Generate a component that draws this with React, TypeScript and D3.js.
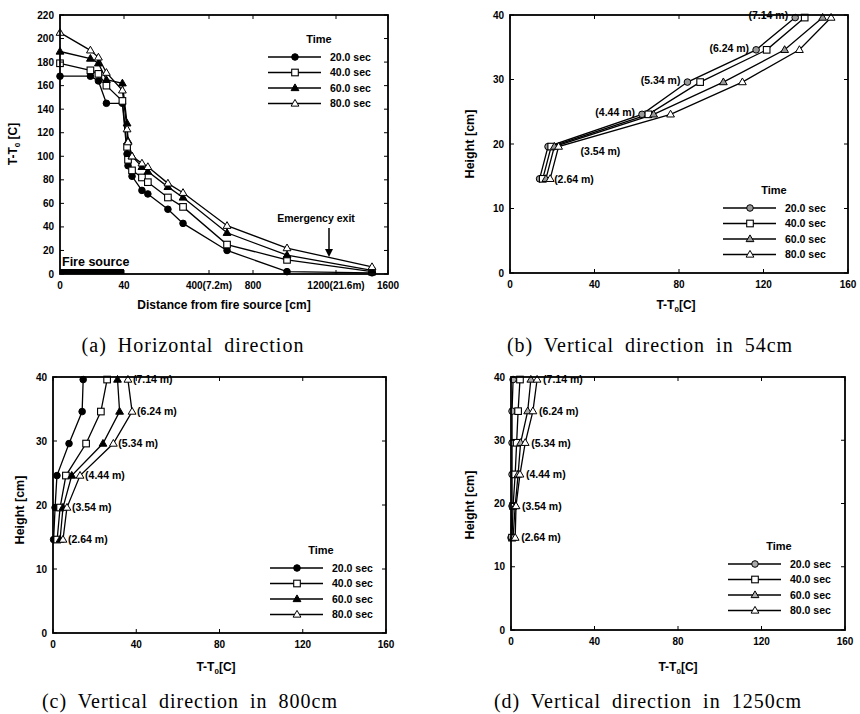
import React from "react";
import * as d3 from "d3";

// legend entries shared by all four panels
const times = ["20.0 sec", "40.0 sec", "60.0 sec", "80.0 sec"];

// (a) horizontal direction: distance from fire source [cm] vs T-T0 [C]
const distCm = [0, 19, 24, 29, 39, 53, 57, 74, 116, 141, 226, 290, 564, 964, 1477];
const horiz20 = [168, 168, 164, 145, 145, 102, 92, 83, 71, 68, 55, 43, 20, 2, 1];
const horiz40 = [179, 173, 170, 160, 147, 108, 97, 88, 82, 78, 65, 57, 25, 12, 2];
const horiz60 = [189, 183, 179, 165, 162, 128, 113, 100, 91, 87, 74, 65, 35, 16, 3];
const horiz80 = [205, 190, 184, 171, 156, 123, 112, 100, 94, 91, 77, 69, 41, 22, 6];
const distTicks = [0, 40, 400, 800, 1200, 1600];
const distTickLabels = ["0", "40", "400(7.2m)", "800", "1200(21.6m)", "1600"];
const tempTicks = [0, 20, 40, 60, 80, 100, 120, 140, 160, 180, 200, 220];
const fireSource = [0, 40];

// (b)-(d) vertical profiles: T-T0 [C] at each probe height [cm]
const heightCm = [14.6, 19.6, 24.6, 29.6, 34.6, 39.6];
const probeLabels = ["(2.64 m)", "(3.54 m)", "(4.44 m)", "(5.34 m)", "(6.24 m)", "(7.14 m)"];
const heightTicks = [0, 10, 20, 30, 40];
const dTTicks = [0, 40, 80, 120, 160];

const at54_20 = [14, 18, 62.5, 84, 116.5, 135];
const at54_40 = [15.5, 19.5, 65.5, 90, 121.5, 139.5];
const at54_60 = [17, 21, 68, 101, 130, 148];
const at54_80 = [19, 23, 76, 110, 137, 152];

const at800_20 = [0.3, 1, 1.9, 7.7, 14, 14.5];
const at800_40 = [2, 3.4, 6.2, 15.9, 23, 26];
const at800_60 = [3.4, 4.8, 9, 24, 32, 31];
const at800_80 = [4.8, 6.7, 13, 29, 38, 36];

const at1250_20 = [0, 0.5, 0.5, 0.5, 0.5, 1];
const at1250_40 = [0.5, 1, 2, 2.7, 3.4, 4.3];
const at1250_60 = [1, 2, 3.4, 4.6, 8, 9.5];
const at1250_80 = [2, 2.4, 4.3, 6.8, 10.5, 12.5];

const SANS = "'Liberation Sans', Arial, sans-serif";
const SERIF = "'Liberation Serif', 'Times New Roman', serif";

type Scale = d3.ScaleLinear<number, number>;

function Marker({ kind, x, y, solid }: { kind: number; x: number; y: number; solid: string }) {
  const r = 3.3;
  if (kind === 0) return <circle cx={x} cy={y} r={r} fill={solid} stroke="#000" strokeWidth={1} />;
  if (kind === 1)
    return <rect x={x - r} y={y - r} width={2 * r} height={2 * r} fill="#fff" stroke="#000" strokeWidth={1.1} />;
  const tri = `M${x},${y - r - 0.8}L${x + r + 0.6},${y + r * 0.8}L${x - r - 0.6},${y + r * 0.8}Z`;
  return <path d={tri} fill={kind === 2 ? solid : "#fff"} stroke="#000" strokeWidth={1} />;
}

function DeltaT({ x, y, rotate }: { x: number; y: number; rotate?: boolean }) {
  return (
    <text
      x={x}
      y={y}
      textAnchor="middle"
      fontFamily={SANS}
      fontWeight="bold"
      fontSize={12}
      transform={rotate ? `rotate(-90 ${x} ${y})` : undefined}
    >
      T-T<tspan dy={3} fontSize={8}>0</tspan>
      <tspan dy={-3}>{rotate ? " [C]" : "[C]"}</tspan>
    </text>
  );
}

function Caption({ x, y, text }: { x: number; y: number; text: string }) {
  return (
    <text x={x} y={y} textAnchor="middle" fontFamily={SERIF} fontSize={20} letterSpacing={1} wordSpacing={5}>
      {text}
    </text>
  );
}

function HeightTitle({ x, y }: { x: number; y: number }) {
  return (
    <text
      x={x}
      y={y}
      textAnchor="middle"
      fontFamily={SANS}
      fontWeight="bold"
      fontSize={12.5}
      transform={`rotate(-90 ${x} ${y})`}
    >
      Height [cm]
    </text>
  );
}

function Frame({
  x,
  y,
  xTicks,
  xLabels,
  yTicks,
}: {
  x: Scale;
  y: Scale;
  xTicks: number[];
  xLabels: string[];
  yTicks: number[];
}) {
  const xr = x.range();
  const x0 = xr[0];
  const x1 = xr[xr.length - 1];
  const [y0, y1] = y.range();
  return (
    <g fontFamily={SANS} fontWeight="bold" fontSize={10}>
      {xTicks.map((t, i) => (
        <g key={"x" + i}>
          <line x1={x(t)} x2={x(t)} y1={y0} y2={y0 - 4} stroke="#000" />
          <line x1={x(t)} x2={x(t)} y1={y1} y2={y1 + 4} stroke="#000" />
          <text x={x(t)} y={y0 + 15} textAnchor="middle">
            {xLabels[i]}
          </text>
        </g>
      ))}
      {yTicks.map((t, i) => (
        <g key={"y" + i}>
          <line x1={x0} x2={x0 + 4} y1={y(t)} y2={y(t)} stroke="#000" />
          <line x1={x1} x2={x1 - 4} y1={y(t)} y2={y(t)} stroke="#000" />
          <text x={x0 - 6} y={y(t) + 3.5} textAnchor="end">
            {t}
          </text>
        </g>
      ))}
      <rect x={x0} y={y1} width={x1 - x0} height={y0 - y1} fill="none" stroke="#000" strokeWidth={1.8} />
    </g>
  );
}

function Legend({ x, y, solid }: { x: number; y: number; solid: string }) {
  const gap = 15.5;
  return (
    <g fontFamily={SANS} fontWeight="bold" fontSize={10.5}>
      <text x={x + 24} y={y} textAnchor="middle" fontSize={11}>
        Time
      </text>
      {times.map((t, i) => {
        const ly = y + 14 + i * gap;
        return (
          <g key={t}>
            <line x1={x - 27} x2={x + 26} y1={ly} y2={ly} stroke="#000" strokeWidth={1.3} />
            <Marker kind={i} x={x} y={ly} solid={solid} />
            <text x={x + 35} y={ly + 3.8}>
              {t}
            </text>
          </g>
        );
      })}
    </g>
  );
}

function Profiles({
  x,
  y,
  series,
  solid,
  labelAt,
}: {
  x: Scale;
  y: Scale;
  series: number[][];
  solid: string;
  labelAt: (i: number, lo: number, hi: number) => [number, number, string];
}) {
  const line = d3
    .line<number>()
    .x((d) => x(d))
    .y((_, i) => y(heightCm[i]));
  return (
    <g>
      {series.map((s, k) => (
        <path key={"l" + k} d={line(s) || ""} fill="none" stroke="#000" strokeWidth={1.3} />
      ))}
      {series.map((s, k) =>
        s.map((v, i) => <Marker key={k + "-" + i} kind={k} x={x(v)} y={y(heightCm[i])} solid={solid} />)
      )}
      <g fontFamily={SANS} fontWeight="bold" fontSize={10.5}>
        {probeLabels.map((lab, i) => {
          const vals = series.map((s) => s[i]);
          const [lx, dy, anchor] = labelAt(i, x(d3.min(vals) as number), x(d3.max(vals) as number));
          return (
            <text key={lab} x={lx} y={y(heightCm[i]) + 3.8 + dy} textAnchor={anchor}>
              {lab}
            </text>
          );
        })}
      </g>
    </g>
  );
}

export default function App() {
  // (a)
  const xA = d3.scaleLinear().domain(distTicks).range([60, 124, 209, 253, 336, 388]);
  const yA = d3.scaleLinear().domain([0, 220]).range([274, 15]);
  const horiz = [horiz20, horiz40, horiz60, horiz80];
  const lineA = d3
    .line<number>()
    .x((_, i) => xA(distCm[i]))
    .y((d) => yA(d));

  // (b) (c) (d)
  const xB = d3.scaleLinear().domain([0, 160]).range([510, 848]);
  const yB = d3.scaleLinear().domain([0, 40]).range([273, 15]);
  const xC = d3.scaleLinear().domain([0, 160]).range([53, 386]);
  const yC = d3.scaleLinear().domain([0, 40]).range([633, 377]);
  const xD = d3.scaleLinear().domain([0, 160]).range([511, 845]);
  const yD = d3.scaleLinear().domain([0, 40]).range([630, 377]);
  const dTLabels = dTTicks.map(String);

  return (
    <svg
      width={860}
      height={714}
      style={{ position: "absolute", left: 0, top: 0, background: "#fff" }}
    >
      {/* (a) Horizontal direction */}
      <rect
        x={xA(fireSource[0])}
        y={yA(0) - 5}
        width={xA(fireSource[1]) - xA(fireSource[0])}
        height={5}
        fill="#000"
      />
      <text x={62} y={266} fontFamily={SANS} fontWeight="bold" fontSize={12.5}>
        Fire source
      </text>
      {horiz.map((s, k) => (
        <path key={"a" + k} d={lineA(s) || ""} fill="none" stroke="#000" strokeWidth={1.3} />
      ))}
      {horiz.map((s, k) =>
        s.map((v, i) => <Marker key={"am" + k + i} kind={k} x={xA(distCm[i])} y={yA(v)} solid="#000" />)
      )}
      <Frame x={xA} y={yA} xTicks={distTicks} xLabels={distTickLabels} yTicks={tempTicks} />
      <text x={316} y={222} textAnchor="middle" fontFamily={SANS} fontWeight="bold" fontSize={10.5}>
        Emergency exit
      </text>
      <line x1={329} x2={329} y1={228} y2={252} stroke="#000" strokeWidth={1.5} />
      <path d="M325,249L329,257L333,249Z" fill="#000" />
      <Legend x={295} y={43} solid="#000" />
      <DeltaT x={17} y={144} rotate />
      <text x={224} y={309} textAnchor="middle" fontFamily={SANS} fontWeight="bold" fontSize={12}>
        Distance from fire source [cm]
      </text>
      <Caption x={193} y={352} text="(a) Horizontal direction" />

      {/* (b) Vertical direction in 54cm */}
      <Profiles
        x={xB}
        y={yB}
        series={[at54_20, at54_40, at54_60, at54_80]}
        solid="#999"
        labelAt={(i, lo, hi) =>
          i === 0 ? [hi + 4, 0, "start"] : i === 1 ? [hi + 22, 5, "start"] : [lo - 7, -2, "end"]
        }
      />
      <Frame x={xB} y={yB} xTicks={dTTicks} xLabels={dTLabels} yTicks={heightTicks} />
      <Legend x={750} y={194} solid="#999" />
      <HeightTitle x={474} y={144} />
      <DeltaT x={676} y={309} />
      <Caption x={650} y={352} text="(b) Vertical direction in 54cm" />

      {/* (c) Vertical direction in 800cm */}
      <Profiles
        x={xC}
        y={yC}
        series={[at800_20, at800_40, at800_60, at800_80]}
        solid="#000"
        labelAt={(_, __, hi) => [hi + 5, 0, "start"]}
      />
      <Frame x={xC} y={yC} xTicks={dTTicks} xLabels={dTLabels} yTicks={heightTicks} />
      <Legend x={297} y={554} solid="#000" />
      <HeightTitle x={24} y={510} />
      <DeltaT x={216} y={671} />
      <Caption x={190} y={708} text="(c) Vertical direction in 800cm" />

      {/* (d) Vertical direction in 1250cm */}
      <Profiles
        x={xD}
        y={yD}
        series={[at1250_20, at1250_40, at1250_60, at1250_80]}
        solid="#aaa"
        labelAt={(_, __, hi) => [hi + 6, 0, "start"]}
      />
      <Frame x={xD} y={yD} xTicks={dTTicks} xLabels={dTLabels} yTicks={heightTicks} />
      <Legend x={755} y={550} solid="#aaa" />
      <HeightTitle x={474} y={505} />
      <DeltaT x={678} y={671} />
      <Caption x={648} y={708} text="(d) Vertical direction in 1250cm" />
    </svg>
  );
}
